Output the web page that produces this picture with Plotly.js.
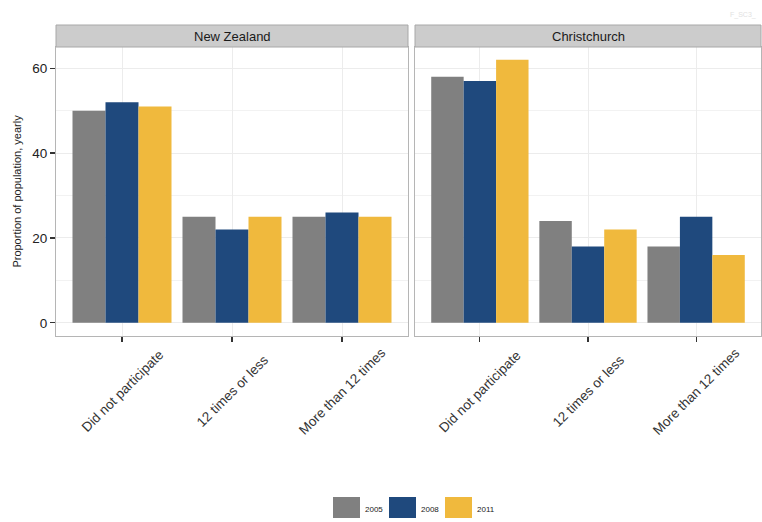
<!DOCTYPE html>
<html>
<head>
<meta charset="utf-8">
<script src="https://cdn.plot.ly/plotly-3.0.1.min.js"></script>
<style>html,body{margin:0;padding:0;background:#fff;}#chart{width:762px;height:522px;}</style>
</head>
<body>
<div id="chart"></div>
<script>
const categories = ["Did not participate", "12 times or less", "More than 12 times"];
const years = ["2005", "2008", "2011"];
const panels = ["New Zealand", "Christchurch"];
const nz2005 = [50, 25, 25];
const nz2008 = [52, 22, 26];
const nz2011 = [51, 25, 25];
const ch2005 = [58, 24, 18];
const ch2008 = [57, 18, 25];
const ch2011 = [62, 22, 16];
const colors = ["#808080", "#1f497d", "#f0b93d"];

const W = 762, H = 522;
const px = x => x / W;
const py = y => (H - y) / H;

const nzSeries = [nz2005, nz2008, nz2011];
const chSeries = [ch2005, ch2008, ch2011];
const traces = [];
years.forEach((yr, i) => {
  traces.push({type: "bar", x: categories, y: nzSeries[i], name: yr, marker: {color: colors[i]}, xaxis: "x", yaxis: "y", showlegend: false, hoverinfo: "y"});
  traces.push({type: "bar", x: categories, y: chSeries[i], name: yr, marker: {color: colors[i]}, xaxis: "x2", yaxis: "y2", showlegend: false, hoverinfo: "y"});
});

const font = "Liberation Sans, Arial, Helvetica, sans-serif";
const xCommon = {
  type: "category", range: [-0.6, 2.6], showticklabels: false,
  ticks: "outside", ticklen: 5, tickcolor: "#333", tickwidth: 1.2,
  showgrid: true, gridcolor: "#ececec", gridwidth: 1,
  showline: true, mirror: true, linecolor: "#b5b5b5", linewidth: 1,
  zeroline: false, fixedrange: true
};
const yCommon = {
  range: [-3.1, 65], tickvals: [0, 20, 40, 60],
  showgrid: true, gridcolor: "#ececec", gridwidth: 1,
  minor: {tickvals: [10, 30, 50], showgrid: true, gridcolor: "#f2f2f2", gridwidth: 1, ticks: ""},
  showline: true, mirror: true, linecolor: "#b5b5b5", linewidth: 1,
  zeroline: false, fixedrange: true
};

const yDom = [py(336), py(47)];
const layout = {
  width: W, height: H,
  margin: {l: 0, r: 0, t: 0, b: 0},
  paper_bgcolor: "#ffffff", plot_bgcolor: "#ffffff",
  bargap: 0.1, bargroupgap: 0, barmode: "group",
  font: {family: font},
  xaxis: Object.assign({}, xCommon, {domain: [px(56), px(408)], anchor: "y"}),
  xaxis2: Object.assign({}, xCommon, {domain: [px(415), px(761)], anchor: "y2"}),
  yaxis: Object.assign({}, yCommon, {domain: yDom, anchor: "x",
    ticks: "outside", ticklen: 5, tickcolor: "#333", tickwidth: 1.2,
    tickfont: {family: font, size: 13.5, color: "#222"},
    title: {text: "Proportion of population, yearly", font: {family: font, size: 11, color: "#222"}, standoff: 8}}),
  yaxis2: Object.assign({}, yCommon, {domain: yDom, anchor: "x2", showticklabels: false, ticks: ""}),
  shapes: [],
  annotations: []
};

// rotated category labels, centred under each tick
["x", "x2"].forEach(ax => {
  categories.forEach(c => {
    layout.annotations.push({xref: ax, yref: "paper", x: c, y: py(391),
      text: c, textangle: -45, showarrow: false, xanchor: "center", yanchor: "middle",
      font: {family: font, size: 13.5, color: "#333"}});
  });
});

// facet strips
const stripX = [[56, 408], [415, 761]];
panels.forEach((p, i) => {
  layout.shapes.push({type: "rect", xref: "paper", yref: "paper",
    x0: px(stripX[i][0]), x1: px(stripX[i][1]), y0: py(47), y1: py(25),
    fillcolor: "#cccccc", line: {color: "#a8a8a8", width: 1}, layer: "above"});
  layout.annotations.push({xref: "paper", yref: "paper",
    x: (px(stripX[i][0]) + px(stripX[i][1])) / 2, y: py(36),
    text: p, showarrow: false, xanchor: "center", yanchor: "middle",
    font: {family: font, size: 13, color: "#1a1a1a"}});
});

// legend
const legX = [333, 389, 445];
years.forEach((yr, i) => {
  layout.shapes.push({type: "rect", xref: "paper", yref: "paper",
    x0: px(legX[i]), x1: px(legX[i] + 27), y0: py(518), y1: py(497),
    fillcolor: colors[i], line: {width: 0}});
  layout.annotations.push({xref: "paper", yref: "paper",
    x: px(legX[i] + 30), y: py(509), text: yr, showarrow: false,
    xanchor: "left", yanchor: "middle",
    font: {family: font, size: 8, color: "#222"}});
});

// watermark
layout.annotations.push({xref: "paper", yref: "paper", x: px(758), y: py(15),
  text: "F_SC3_", showarrow: false, xanchor: "right", yanchor: "middle",
  font: {family: font, size: 7, color: "#e2e2e2"}});

Plotly.newPlot("chart", traces, layout, {displayModeBar: false, staticPlot: true});
</script>
</body>
</html>
